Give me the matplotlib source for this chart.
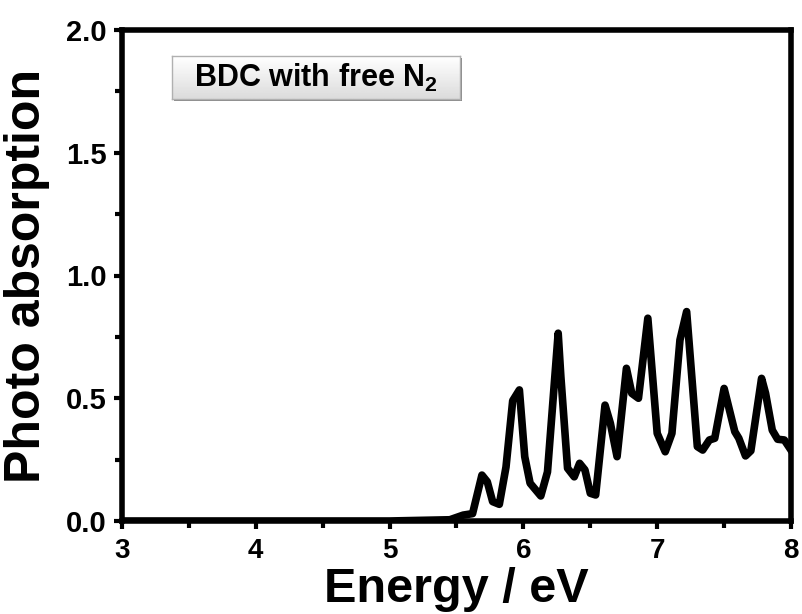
import numpy as np
import matplotlib
matplotlib.use('Agg')
import matplotlib.pyplot as plt
from matplotlib.ticker import MultipleLocator

plt.rcParams['font.family'] = ['Liberation Sans', 'DejaVu Sans']
plt.rcParams['font.weight'] = 'bold'
plt.rcParams['mathtext.fontset'] = 'custom'
plt.rcParams['mathtext.rm'] = 'Liberation Sans:bold'
plt.rcParams['mathtext.default'] = 'rm'

# Absorption spectrum
energy = [3.0, 5.0, 5.45, 5.55, 5.62, 5.69, 5.73, 5.77, 5.82, 5.87, 5.92, 5.97,
          6.01, 6.05, 6.13, 6.18, 6.26, 6.28, 6.33, 6.38, 6.42, 6.46, 6.50, 6.54,
          6.61, 6.65, 6.70, 6.77, 6.81, 6.86, 6.93, 7.00, 7.06, 7.11, 7.17, 7.22,
          7.30, 7.34, 7.39, 7.43, 7.50, 7.58, 7.61, 7.66, 7.70, 7.78, 7.81, 7.86,
          7.90, 7.95, 8.0]
absorption = [0.0, 0.0, 0.005, 0.024, 0.03, 0.187, 0.16, 0.079, 0.068, 0.22, 0.49, 0.534,
              0.262, 0.154, 0.102, 0.2, 0.765, 0.588, 0.215, 0.18, 0.235, 0.208, 0.113, 0.106,
              0.472, 0.398, 0.262, 0.622, 0.52, 0.5, 0.826, 0.357, 0.282, 0.357, 0.737, 0.853,
              0.303, 0.289, 0.33, 0.337, 0.54, 0.364, 0.337, 0.265, 0.286, 0.581, 0.52, 0.37,
              0.333, 0.33, 0.289]

fig = plt.figure(figsize=(8.02, 6.14), dpi=100)
ax = fig.add_axes([122/802, 93/614, 669/802, 491/614])

ax.plot(energy, absorption, color='black', linewidth=5.5, solid_joinstyle='round')
ax.set_xlim(3, 8)
ax.set_ylim(0, 2.0)

ax.xaxis.set_major_locator(MultipleLocator(1))
ax.xaxis.set_minor_locator(MultipleLocator(0.5))
ax.yaxis.set_major_locator(MultipleLocator(0.5))
ax.yaxis.set_minor_locator(MultipleLocator(0.25))
ax.yaxis.set_major_formatter(plt.FormatStrFormatter('%.1f'))

for s in ax.spines.values():
    s.set_linewidth(4)
ax.tick_params(which='major', direction='out', length=6, width=3, labelsize=21)
ax.tick_params(which='minor', direction='out', length=5, width=3)
ax.tick_params(axis='x', which='major', pad=6, labelsize=20)
ax.tick_params(axis='y', which='major', pad=5)
for lab in ax.get_xticklabels() + ax.get_yticklabels():
    lab.set_fontweight('bold')

ax.set_xlabel('Energy / eV', fontsize=35, fontweight='bold')
ax.set_ylabel('Photo absorption', fontsize=36, fontweight='bold')
ax.xaxis.set_label_coords(0.5, -0.094)
ax.yaxis.set_label_coords(-0.108, 0.5)

# label box with a light gradient and shadow
shadow = fig.add_axes([174/802, 1 - 101/614, 288/802, 43/614])
shadow.set_facecolor('#8a8a8a')
shadow.set_xticks([])
shadow.set_yticks([])
for s in shadow.spines.values():
    s.set_visible(False)

box = fig.add_axes([172/802, 1 - 99/614, 288/802, 43/614])
grad = np.linspace(1.0, 0.86, 50).reshape(-1, 1)
box.imshow(grad, aspect='auto', cmap='gray', vmin=0, vmax=1, extent=[0, 1, 0, 1])
box.set_xticks([])
box.set_yticks([])
for s in box.spines.values():
    s.set_color('#b0b0b0')
    s.set_linewidth(1)
box.text(0.5, 0.5, 'BDC with free N$_2$', fontsize=22, fontweight='bold',
         ha='center', va='center', transform=box.transAxes)

fig.savefig('out.png', dpi=100)
